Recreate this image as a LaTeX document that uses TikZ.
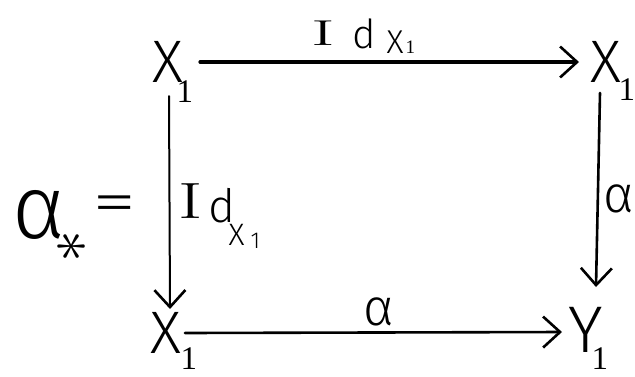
\documentclass[tikz,border=0pt]{standalone}
\usepackage{graphicx}
\usepackage{fontspec}
\setmainfont{Fira Sans Light}
\newfontfamily\serifI{Liberation Serif}
\newfontfamily\lmI{Latin Modern Roman}
\usetikzlibrary{arrows.meta}
\newcommand{\fs}[1]{\fontsize{#1}{#1}\selectfont}
\newcommand{\at}[3]{\makebox[0pt][l]{\hspace{#1}\raisebox{#2}{#3}}}
% object letter with a low subscript 1: #1 letter (with size), #2 offset of the 1, #3 its raise
\newcommand{\obj}[3]{\at{0pt}{0pt}{#1}\at{#2}{#3}{\serifI\fs{33}1}}
\tikzset{
  txt/.style={inner sep=0pt, outer sep=0pt, anchor=base west},
  arr/.style={line width=2.6pt, line cap=round,
    -{Straight Barb[length=17pt, width=31pt, line width=2.6pt]}},
}
\begin{document}
\begin{tikzpicture}[x=1pt, y=-1pt]
\useasboundingbox (0,0) rectangle (635,376);
% objects
\node[txt] (tl) at (152,82)  {\obj{\fs{60}X}{24pt}{-20pt}};
\node[txt] (tr) at (590,82)  {\obj{\fs{60}X}{28pt}{-18pt}};
\node[txt] (bl) at (150,353) {\obj{\fs{60}X}{30pt}{-16pt}};
\node[txt] (br) at (568,352) {\obj{\fs{66}Y}{23pt}{-17pt}};
% arrows
\draw[arr, line width=3.2pt] ([xshift=48pt,yshift=20pt]tl.base west) -- ([xshift=-11pt,yshift=20pt]tr.base west);
\draw[arr] ([xshift=35pt,yshift=20pt]bl.base west) -- ([xshift=-6pt,yshift=20pt]br.base west);
\draw[arr, line width=2pt] ([xshift=17pt,yshift=-14pt]tl.base west) -- ([xshift=20pt,yshift=44pt]bl.base west);
\draw[arr] ([xshift=10pt,yshift=-11pt]tr.base west) -- ([xshift=28pt,yshift=65pt]br.base west);
% labels
\node[txt] (ltop) at (307,45) {\at{4pt}{0pt}{\scalebox{2}[1]{\lmI\fs{36}I}}\at{45pt}{-3pt}{\fs{40}d}\at{79pt}{-8pt}{\fs{33}X}\at{98pt}{-8pt}{\serifI\fs{19}1}};
\node[txt] (lleft) at (178,218) {\at{0pt}{0pt}{\scalebox{1.45}[1]{\lmI\fs{51}I}}\at{30pt}{-4pt}{\fs{46}d}\at{50pt}{-27pt}{\fs{31}X}\at{72pt}{-30pt}{\fs{23}1}};
\node[txt] (lbot) at (363,325) {\fs{52}α};
\node[txt] (lright) at (603,212) {\fs{52}α};
\node[txt] (astar) at (12,238) {\at{0pt}{0pt}{\fs{90}α}\at{45pt}{-23pt}{\rotatebox[origin=c]{90}{\scalebox{6.4}{$\ast$}}}};
\node[txt] (eq) at (92,222) {\scalebox{1.5}[1]{\fs{60}=}};
\end{tikzpicture}
\end{document}
